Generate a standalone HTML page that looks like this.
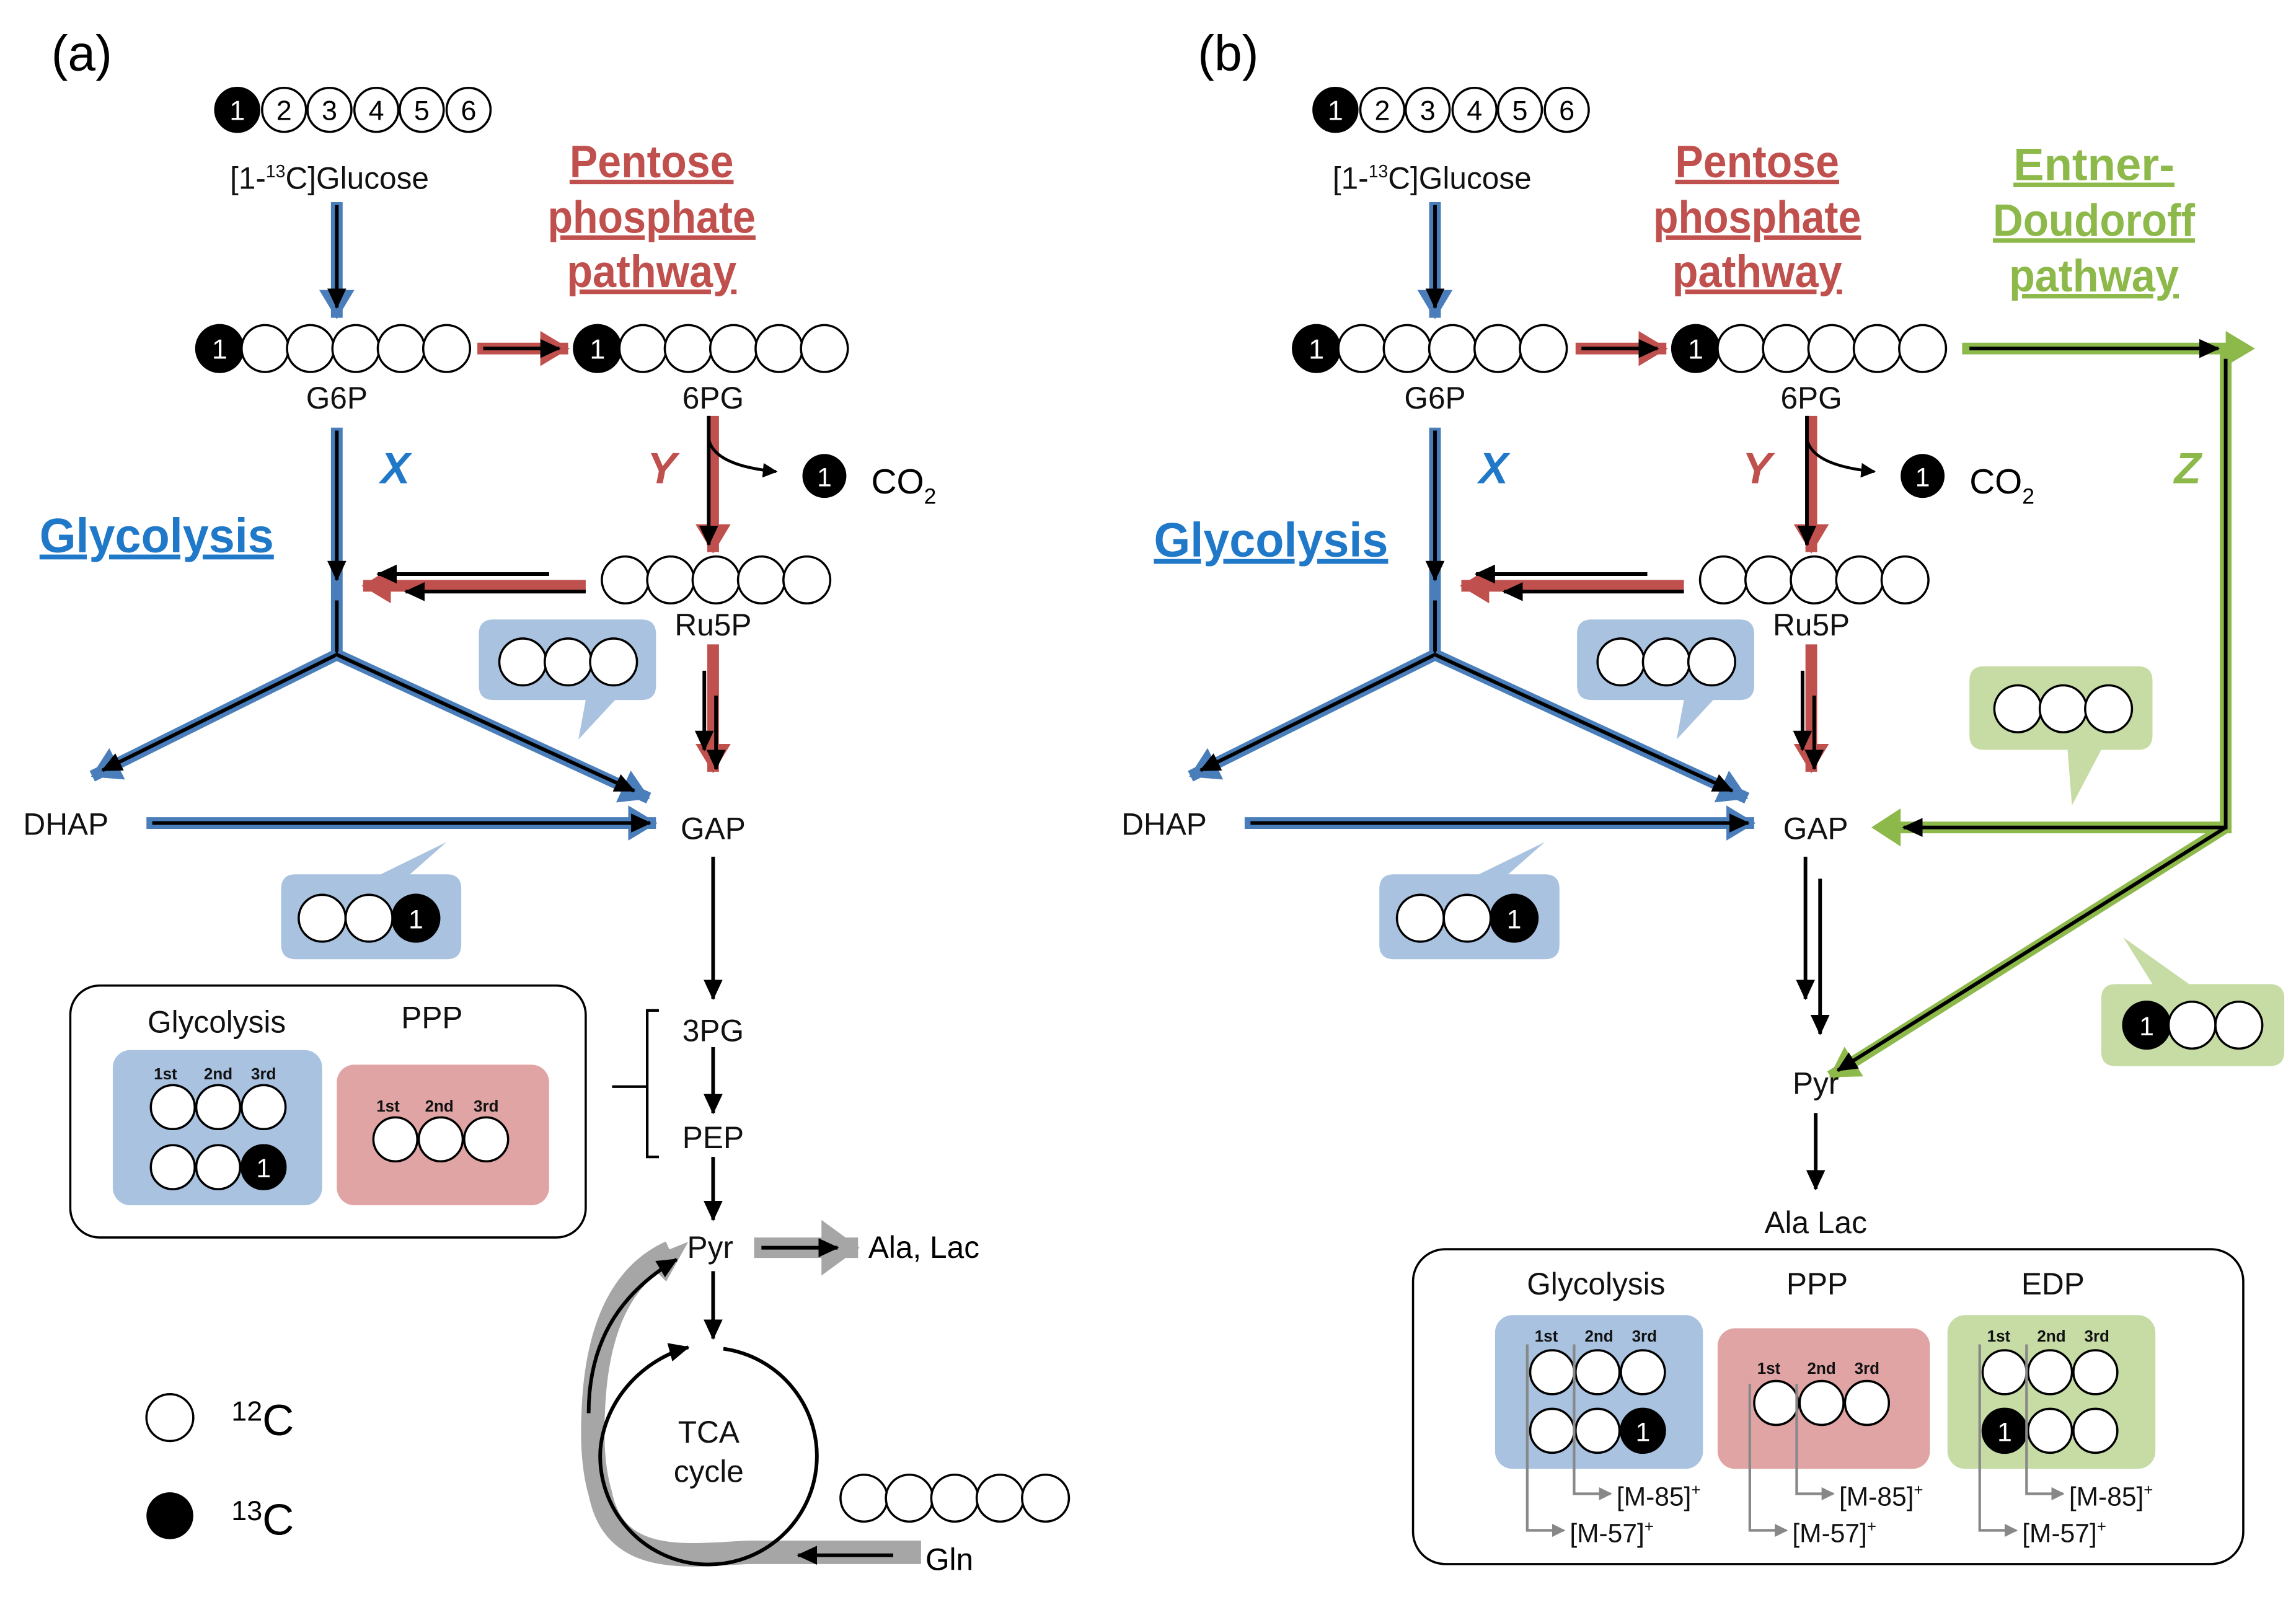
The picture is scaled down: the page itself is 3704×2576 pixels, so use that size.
<!DOCTYPE html>
<html><head><meta charset="utf-8"><style>
html,body{margin:0;padding:0;background:#fff;}
svg{display:block;}
text{font-family:"Liberation Sans",sans-serif;}
.t{font-size:21px;fill:#111;text-anchor:middle;}
.bt{font-weight:bold;text-anchor:middle;}
.sm{font-size:11px;font-weight:bold;text-anchor:middle;fill:#111;}
</style></head><body>
<svg width="3704" height="2576" viewBox="0 0 1568 1090.5" xmlns="http://www.w3.org/2000/svg">
<defs>
<marker id="k" markerWidth="14" markerHeight="13" refX="13" refY="6.5" orient="auto" markerUnits="userSpaceOnUse"><path d="M0,0L14,6.5L0,13z" fill="#000"/></marker>
<marker id="ks" markerWidth="10" markerHeight="10" refX="9" refY="5" orient="auto" markerUnits="userSpaceOnUse"><path d="M0,0L10,5L0,10z" fill="#000"/></marker>
<marker id="gs" markerWidth="9" markerHeight="9" refX="8" refY="4.5" orient="auto" markerUnits="userSpaceOnUse"><path d="M0,0L9,4.5L0,9z" fill="#888"/></marker>
<marker id="bl" markerWidth="20" markerHeight="24" refX="19" refY="12" orient="auto" markerUnits="userSpaceOnUse"><path d="M0,0L20,12L0,24z" fill="#4a7ebb"/></marker>
<marker id="rd" markerWidth="20" markerHeight="24" refX="19" refY="12" orient="auto" markerUnits="userSpaceOnUse"><path d="M0,0L20,12L0,24z" fill="#c0504d"/></marker>
<marker id="gr" markerWidth="20" markerHeight="24" refX="19" refY="12" orient="auto" markerUnits="userSpaceOnUse"><path d="M0,0L20,12L0,24z" fill="#8db84a"/></marker>
<marker id="gy" markerWidth="26" markerHeight="38" refX="25" refY="19" orient="auto" markerUnits="userSpaceOnUse"><path d="M0,0L26,19L0,38z" fill="#a6a6a6"/></marker>
</defs>

<!-- ================= PANEL A ================= -->
<text x="35" y="48" style="font-size:34px">(a)</text>
<g stroke="#000" stroke-width="1.5" fill="#fff">
<circle cx="162" cy="75" r="15" fill="#000"/><circle cx="194" cy="75" r="15"/><circle cx="225" cy="75" r="15"/><circle cx="257" cy="75" r="15"/><circle cx="288" cy="75" r="15"/><circle cx="320" cy="75" r="15"/>
</g>
<g style="font-size:19px" text-anchor="middle"><text x="162" y="82" fill="#fff">1</text><text x="194" y="82">2</text><text x="225" y="82">3</text><text x="257" y="82">4</text><text x="288" y="82">5</text><text x="320" y="82">6</text></g>
<text x="225" y="129" class="t">[1-<tspan font-size="12" dy="-8">13</tspan><tspan dy="8">C]Glucose</tspan></text>

<text x="445" y="121" class="bt" style="font-size:31px" fill="#c0504d" text-decoration="underline" textLength="112" lengthAdjust="spacingAndGlyphs">Pentose</text>
<text x="445" y="159" class="bt" style="font-size:31px" fill="#c0504d" text-decoration="underline" textLength="142" lengthAdjust="spacingAndGlyphs">phosphate</text>
<text x="445" y="196" class="bt" style="font-size:31px" fill="#c0504d" text-decoration="underline" textLength="116" lengthAdjust="spacingAndGlyphs">pathway</text>

<line x1="230" y1="138" x2="230" y2="217" stroke="#4a7ebb" stroke-width="8" marker-end="url(#bl)"/>
<line x1="230" y1="140" x2="230" y2="210" stroke="#000" stroke-width="2.5" marker-end="url(#k)"/>

<g stroke="#000" stroke-width="1.5" fill="#fff">
<circle cx="150" cy="238" r="16" fill="#000"/><circle cx="181" cy="238" r="16"/><circle cx="212" cy="238" r="16"/><circle cx="243" cy="238" r="16"/><circle cx="274" cy="238" r="16"/><circle cx="305" cy="238" r="16"/>
</g>
<text x="150" y="245" style="font-size:19px" text-anchor="middle" fill="#fff">1</text>
<text x="230" y="279" class="t">G6P</text>
<line x1="326" y1="238" x2="388" y2="238" stroke="#c0504d" stroke-width="8" marker-end="url(#rd)"/>
<line x1="330" y1="238" x2="382" y2="238" stroke="#000" stroke-width="2.5" marker-end="url(#k)"/>
<g stroke="#000" stroke-width="1.5" fill="#fff">
<circle cx="408" cy="238" r="16" fill="#000"/><circle cx="439" cy="238" r="16"/><circle cx="470" cy="238" r="16"/><circle cx="501" cy="238" r="16"/><circle cx="532" cy="238" r="16"/><circle cx="563" cy="238" r="16"/>
</g>
<text x="408" y="245" style="font-size:19px" text-anchor="middle" fill="#fff">1</text>
<text x="487" y="279" class="t">6PG</text>

<text x="270" y="330" class="bt" style="font-size:30px;font-style:italic" fill="#1f78c8">X</text>
<text x="452" y="330" class="bt" style="font-size:30px;font-style:italic" fill="#c0504d">Y</text>

<line x1="230" y1="292" x2="230" y2="448" stroke="#4a7ebb" stroke-width="8"/>
<line x1="230" y1="294" x2="230" y2="396" stroke="#000" stroke-width="2.5" marker-end="url(#k)"/>
<line x1="230" y1="410" x2="230" y2="447" stroke="#000" stroke-width="2.5"/>
<text x="107" y="377" class="bt" style="font-size:33px" fill="#1f78c8" text-decoration="underline" textLength="160" lengthAdjust="spacingAndGlyphs">Glycolysis</text>

<line x1="487" y1="284" x2="487" y2="377" stroke="#c0504d" stroke-width="8" marker-end="url(#rd)"/>
<line x1="484" y1="284" x2="484" y2="372" stroke="#000" stroke-width="2.5" marker-end="url(#k)"/>
<path d="M484,300 Q488,318 530,322" fill="none" stroke="#000" stroke-width="2" marker-end="url(#ks)"/>
<circle cx="563" cy="325" r="15" fill="#000"/><text x="563" y="332" style="font-size:18px" text-anchor="middle" fill="#fff">1</text>
<text x="595" y="337" style="font-size:24px">CO<tspan font-size="15" dy="7">2</tspan></text>

<g stroke="#000" stroke-width="1.5" fill="#fff">
<circle cx="427" cy="396" r="16"/><circle cx="458" cy="396" r="16"/><circle cx="489" cy="396" r="16"/><circle cx="520" cy="396" r="16"/><circle cx="551" cy="396" r="16"/>
</g>
<text x="487" y="434" class="t">Ru5P</text>
<line x1="400" y1="400" x2="248" y2="400" stroke="#c0504d" stroke-width="8" marker-end="url(#rd)"/>
<line x1="375" y1="392" x2="258" y2="392" stroke="#000" stroke-width="2.5" marker-end="url(#k)"/>
<line x1="400" y1="404" x2="277" y2="404" stroke="#000" stroke-width="2.5" marker-end="url(#k)"/>

<line x1="230" y1="447" x2="63" y2="530" stroke="#4a7ebb" stroke-width="8" marker-end="url(#bl)"/>
<line x1="230" y1="447" x2="70" y2="526" stroke="#000" stroke-width="2.5" marker-end="url(#k)"/>
<line x1="230" y1="447" x2="443" y2="545" stroke="#4a7ebb" stroke-width="8" marker-end="url(#bl)"/>
<line x1="230" y1="447" x2="433" y2="540" stroke="#000" stroke-width="2.5" marker-end="url(#k)"/>

<path d="M337,423 H438 Q448,423 448,433 V468 Q448,478 438,478 H420 L395,505 L400,478 H337 Q327,478 327,468 V433 Q327,423 337,423z" fill="#a9c2e0"/>
<g stroke="#000" stroke-width="1.5" fill="#fff"><circle cx="357" cy="452" r="16"/><circle cx="388" cy="452" r="16"/><circle cx="419" cy="452" r="16"/></g>

<line x1="487" y1="440" x2="487" y2="527" stroke="#c0504d" stroke-width="8" marker-end="url(#rd)"/>
<line x1="481" y1="458" x2="481" y2="512" stroke="#000" stroke-width="2.5" marker-end="url(#k)"/>
<line x1="489" y1="475" x2="489" y2="525" stroke="#000" stroke-width="2.5" marker-end="url(#k)"/>

<text x="45" y="570" class="t">DHAP</text>
<text x="487" y="573" class="t">GAP</text>
<line x1="100" y1="562" x2="448" y2="562" stroke="#4a7ebb" stroke-width="8" marker-end="url(#bl)"/>
<line x1="104" y1="562" x2="444" y2="562" stroke="#000" stroke-width="2.5" marker-end="url(#k)"/>

<path d="M202,597 H260 L305,575 L280,597 H305 Q315,597 315,607 V645 Q315,655 305,655 H202 Q192,655 192,645 V607 Q192,597 202,597z" fill="#a9c2e0"/>
<g stroke="#000" stroke-width="1.5" fill="#fff"><circle cx="220" cy="627" r="16"/><circle cx="252" cy="627" r="16"/><circle cx="284" cy="627" r="16" fill="#000"/></g>
<text x="284" y="634" style="font-size:18px" text-anchor="middle" fill="#fff">1</text>

<line x1="487" y1="585" x2="487" y2="682" stroke="#000" stroke-width="2.5" marker-end="url(#k)"/>
<text x="487" y="711" class="t">3PG</text>
<line x1="487" y1="715" x2="487" y2="760" stroke="#000" stroke-width="2.5" marker-end="url(#k)"/>
<text x="487" y="784" class="t">PEP</text>
<line x1="487" y1="790" x2="487" y2="833" stroke="#000" stroke-width="2.5" marker-end="url(#k)"/>
<text x="485" y="859" class="t">Pyr</text>
<path d="M450,690 H442 V790 H450 M442,742 H418" fill="none" stroke="#000" stroke-width="1.8"/>

<rect x="48" y="673" width="352" height="172" rx="20" fill="none" stroke="#000" stroke-width="1.5"/>
<text x="148" y="705" class="t">Glycolysis</text>
<text x="295" y="702" class="t">PPP</text>
<rect x="77" y="717" width="143" height="106" rx="12" fill="#a9c2e0"/>
<text x="113" y="737" class="sm">1st</text><text x="149" y="737" class="sm">2nd</text><text x="180" y="737" class="sm">3rd</text>
<g stroke="#000" stroke-width="1.5" fill="#fff"><circle cx="118" cy="756" r="15"/><circle cx="149" cy="756" r="15"/><circle cx="180" cy="756" r="15"/><circle cx="118" cy="797" r="15"/><circle cx="149" cy="797" r="15"/><circle cx="180" cy="797" r="15" fill="#000"/></g>
<text x="180" y="804" style="font-size:18px" text-anchor="middle" fill="#fff">1</text>
<rect x="230" y="727" width="145" height="96" rx="12" fill="#e0a4a4"/>
<text x="265" y="759" class="sm">1st</text><text x="300" y="759" class="sm">2nd</text><text x="332" y="759" class="sm">3rd</text>
<g stroke="#000" stroke-width="1.5" fill="#fff"><circle cx="270" cy="778" r="15"/><circle cx="301" cy="778" r="15"/><circle cx="332" cy="778" r="15"/></g>

<line x1="515" y1="852" x2="586" y2="852" stroke="#a6a6a6" stroke-width="14" marker-end="url(#gy)"/>
<line x1="520" y1="852" x2="572" y2="852" stroke="#000" stroke-width="2.5" marker-end="url(#k)"/>
<text x="593" y="859" style="font-size:21px">Ala, Lac</text>
<line x1="487" y1="868" x2="487" y2="914" stroke="#000" stroke-width="2.5" marker-end="url(#k)"/>

<path d="M629,1060 H510 C470,1062 420,1070 410,1020 C404,1000 404,975 406,950 C410,905 425,870 458,855" fill="none" stroke="#a6a6a6" stroke-width="16"/>
<path d="M440,860 L470,848 L455,875z" fill="#a6a6a6"/>
<path d="M494,921 A74,74 0 1 1 410,990" fill="none" stroke="#000" stroke-width="2.5"/>
<path d="M410,990 C413,955 440,928 470,920" fill="none" stroke="#000" stroke-width="2.5" marker-end="url(#k)"/>
<path d="M402,965 C402,920 420,885 462,860" fill="none" stroke="#000" stroke-width="2.5" marker-end="url(#k)"/>
<text x="484" y="985" class="t">TCA</text>
<text x="484" y="1012" class="t">cycle</text>
<line x1="610" y1="1062" x2="545" y2="1062" stroke="#000" stroke-width="2.5" marker-end="url(#k)"/>
<text x="632" y="1072" style="font-size:21px">Gln</text>
<g stroke="#000" stroke-width="1.5" fill="#fff"><circle cx="590" cy="1023" r="16"/><circle cx="621" cy="1023" r="16"/><circle cx="652" cy="1023" r="16"/><circle cx="683" cy="1023" r="16"/><circle cx="714" cy="1023" r="16"/></g>

<circle cx="116" cy="968" r="16" fill="#fff" stroke="#000" stroke-width="1.5"/>
<text x="158" y="980" style="font-size:30px"><tspan font-size="19" dy="-10">12</tspan><tspan dy="10">C</tspan></text>
<circle cx="116" cy="1035" r="16" fill="#000"/>
<text x="158" y="1048" style="font-size:30px"><tspan font-size="19" dy="-10">13</tspan><tspan dy="10">C</tspan></text>

<!-- ================= PANEL B ================= -->
<text x="818" y="48" style="font-size:34px">(b)</text>
<g stroke="#000" stroke-width="1.5" fill="#fff">
<circle cx="912" cy="75" r="15" fill="#000"/><circle cx="944" cy="75" r="15"/><circle cx="975" cy="75" r="15"/><circle cx="1007" cy="75" r="15"/><circle cx="1038" cy="75" r="15"/><circle cx="1070" cy="75" r="15"/>
</g>
<g style="font-size:19px" text-anchor="middle"><text x="912" y="82" fill="#fff">1</text><text x="944" y="82">2</text><text x="975" y="82">3</text><text x="1007" y="82">4</text><text x="1038" y="82">5</text><text x="1070" y="82">6</text></g>
<text x="978" y="129" class="t">[1-<tspan font-size="12" dy="-8">13</tspan><tspan dy="8">C]Glucose</tspan></text>

<text x="1200" y="121" class="bt" style="font-size:31px" fill="#c0504d" text-decoration="underline" textLength="112" lengthAdjust="spacingAndGlyphs">Pentose</text>
<text x="1200" y="159" class="bt" style="font-size:31px" fill="#c0504d" text-decoration="underline" textLength="142" lengthAdjust="spacingAndGlyphs">phosphate</text>
<text x="1200" y="196" class="bt" style="font-size:31px" fill="#c0504d" text-decoration="underline" textLength="116" lengthAdjust="spacingAndGlyphs">pathway</text>
<text x="1430" y="123" class="bt" style="font-size:31px" fill="#8db84a" text-decoration="underline" textLength="110" lengthAdjust="spacingAndGlyphs">Entner-</text>
<text x="1430" y="161" class="bt" style="font-size:31px" fill="#8db84a" text-decoration="underline" textLength="138" lengthAdjust="spacingAndGlyphs">Doudoroff</text>
<text x="1430" y="199" class="bt" style="font-size:31px" fill="#8db84a" text-decoration="underline" textLength="116" lengthAdjust="spacingAndGlyphs">pathway</text>

<line x1="980" y1="138" x2="980" y2="217" stroke="#4a7ebb" stroke-width="8" marker-end="url(#bl)"/>
<line x1="980" y1="140" x2="980" y2="210" stroke="#000" stroke-width="2.5" marker-end="url(#k)"/>

<g stroke="#000" stroke-width="1.5" fill="#fff">
<circle cx="899" cy="238" r="16" fill="#000"/><circle cx="930" cy="238" r="16"/><circle cx="961" cy="238" r="16"/><circle cx="992" cy="238" r="16"/><circle cx="1023" cy="238" r="16"/><circle cx="1054" cy="238" r="16"/>
</g>
<text x="899" y="245" style="font-size:19px" text-anchor="middle" fill="#fff">1</text>
<text x="980" y="279" class="t">G6P</text>
<line x1="1076" y1="238" x2="1138" y2="238" stroke="#c0504d" stroke-width="8" marker-end="url(#rd)"/>
<line x1="1080" y1="238" x2="1132" y2="238" stroke="#000" stroke-width="2.5" marker-end="url(#k)"/>
<g stroke="#000" stroke-width="1.5" fill="#fff">
<circle cx="1158" cy="238" r="16" fill="#000"/><circle cx="1189" cy="238" r="16"/><circle cx="1220" cy="238" r="16"/><circle cx="1251" cy="238" r="16"/><circle cx="1282" cy="238" r="16"/><circle cx="1313" cy="238" r="16"/>
</g>
<text x="1158" y="245" style="font-size:19px" text-anchor="middle" fill="#fff">1</text>
<text x="1237" y="279" class="t">6PG</text>

<text x="1020" y="330" class="bt" style="font-size:30px;font-style:italic" fill="#1f78c8">X</text>
<text x="1200" y="330" class="bt" style="font-size:30px;font-style:italic" fill="#c0504d">Y</text>
<text x="1494" y="330" class="bt" style="font-size:30px;font-style:italic" fill="#8db84a">Z</text>

<line x1="980" y1="292" x2="980" y2="448" stroke="#4a7ebb" stroke-width="8"/>
<line x1="980" y1="294" x2="980" y2="396" stroke="#000" stroke-width="2.5" marker-end="url(#k)"/>
<line x1="980" y1="410" x2="980" y2="447" stroke="#000" stroke-width="2.5"/>
<text x="868" y="380" class="bt" style="font-size:33px" fill="#1f78c8" text-decoration="underline" textLength="160" lengthAdjust="spacingAndGlyphs">Glycolysis</text>

<line x1="1237" y1="284" x2="1237" y2="377" stroke="#c0504d" stroke-width="8" marker-end="url(#rd)"/>
<line x1="1234" y1="284" x2="1234" y2="372" stroke="#000" stroke-width="2.5" marker-end="url(#k)"/>
<path d="M1234,300 Q1238,318 1280,322" fill="none" stroke="#000" stroke-width="2" marker-end="url(#ks)"/>
<circle cx="1313" cy="325" r="15" fill="#000"/><text x="1313" y="332" style="font-size:18px" text-anchor="middle" fill="#fff">1</text>
<text x="1345" y="337" style="font-size:24px">CO<tspan font-size="15" dy="7">2</tspan></text>

<g stroke="#000" stroke-width="1.5" fill="#fff">
<circle cx="1177" cy="396" r="16"/><circle cx="1208" cy="396" r="16"/><circle cx="1239" cy="396" r="16"/><circle cx="1270" cy="396" r="16"/><circle cx="1301" cy="396" r="16"/>
</g>
<text x="1237" y="434" class="t">Ru5P</text>
<line x1="1150" y1="400" x2="998" y2="400" stroke="#c0504d" stroke-width="8" marker-end="url(#rd)"/>
<line x1="1125" y1="392" x2="1008" y2="392" stroke="#000" stroke-width="2.5" marker-end="url(#k)"/>
<line x1="1150" y1="404" x2="1027" y2="404" stroke="#000" stroke-width="2.5" marker-end="url(#k)"/>

<line x1="980" y1="447" x2="813" y2="530" stroke="#4a7ebb" stroke-width="8" marker-end="url(#bl)"/>
<line x1="980" y1="447" x2="820" y2="526" stroke="#000" stroke-width="2.5" marker-end="url(#k)"/>
<line x1="980" y1="447" x2="1193" y2="545" stroke="#4a7ebb" stroke-width="8" marker-end="url(#bl)"/>
<line x1="980" y1="447" x2="1183" y2="540" stroke="#000" stroke-width="2.5" marker-end="url(#k)"/>

<path d="M1087,423 H1188 Q1198,423 1198,433 V468 Q1198,478 1188,478 H1170 L1145,505 L1150,478 H1087 Q1077,478 1077,468 V433 Q1077,423 1087,423z" fill="#a9c2e0"/>
<g stroke="#000" stroke-width="1.5" fill="#fff"><circle cx="1107" cy="452" r="16"/><circle cx="1138" cy="452" r="16"/><circle cx="1169" cy="452" r="16"/></g>

<line x1="1237" y1="440" x2="1237" y2="527" stroke="#c0504d" stroke-width="8" marker-end="url(#rd)"/>
<line x1="1231" y1="458" x2="1231" y2="512" stroke="#000" stroke-width="2.5" marker-end="url(#k)"/>
<line x1="1239" y1="475" x2="1239" y2="525" stroke="#000" stroke-width="2.5" marker-end="url(#k)"/>

<text x="795" y="570" class="t">DHAP</text>
<text x="1240" y="573" class="t">GAP</text>
<line x1="850" y1="562" x2="1198" y2="562" stroke="#4a7ebb" stroke-width="8" marker-end="url(#bl)"/>
<line x1="854" y1="562" x2="1194" y2="562" stroke="#000" stroke-width="2.5" marker-end="url(#k)"/>

<path d="M952,597 H1010 L1055,575 L1030,597 H1055 Q1065,597 1065,607 V645 Q1065,655 1055,655 H952 Q942,655 942,645 V607 Q942,597 952,597z" fill="#a9c2e0"/>
<g stroke="#000" stroke-width="1.5" fill="#fff"><circle cx="970" cy="627" r="16"/><circle cx="1002" cy="627" r="16"/><circle cx="1034" cy="627" r="16" fill="#000"/></g>
<text x="1034" y="634" style="font-size:18px" text-anchor="middle" fill="#fff">1</text>

<path d="M1340,238 H1520 V565 H1295" fill="none" stroke="#8db84a" stroke-width="8"/>
<path d="M1520,565 L1250,735" fill="none" stroke="#8db84a" stroke-width="8" marker-end="url(#gr)"/>
<path d="M1298,552 L1278,565 L1298,578z" fill="#8db84a"/>
<path d="M1520,226 L1540,238 L1520,250z" fill="#8db84a"/>
<line x1="1345" y1="238" x2="1515" y2="238" stroke="#000" stroke-width="2.5" marker-end="url(#k)"/>
<path d="M1520,245 V565 H1300" fill="none" stroke="#000" stroke-width="2.5" marker-end="url(#k)"/>
<line x1="1520" y1="565" x2="1255" y2="731" stroke="#000" stroke-width="2.5" marker-end="url(#k)"/>

<path d="M1355,455 H1460 Q1470,455 1470,465 V502 Q1470,512 1460,512 H1435 L1415,550 L1412,512 H1355 Q1345,512 1345,502 V465 Q1345,455 1355,455z" fill="#c6dca4"/>
<g stroke="#000" stroke-width="1.5" fill="#fff"><circle cx="1378" cy="484" r="16"/><circle cx="1409" cy="484" r="16"/><circle cx="1440" cy="484" r="16"/></g>
<path d="M1445,672 H1470 L1450,640 L1495,672 H1550 Q1560,672 1560,682 V718 Q1560,728 1550,728 H1445 Q1435,728 1435,718 V682 Q1435,672 1445,672z" fill="#c6dca4"/>
<g stroke="#000" stroke-width="1.5" fill="#fff"><circle cx="1466" cy="700" r="16" fill="#000"/><circle cx="1497" cy="700" r="16"/><circle cx="1529" cy="700" r="16"/></g>
<text x="1466" y="707" style="font-size:18px" text-anchor="middle" fill="#fff">1</text>

<line x1="1233" y1="585" x2="1233" y2="682" stroke="#000" stroke-width="2.5" marker-end="url(#k)"/>
<line x1="1243" y1="600" x2="1243" y2="706" stroke="#000" stroke-width="2.5" marker-end="url(#k)"/>
<text x="1240" y="747" class="t">Pyr</text>
<line x1="1240" y1="760" x2="1240" y2="812" stroke="#000" stroke-width="2.5" marker-end="url(#k)"/>
<text x="1240" y="842" class="t">Ala Lac</text>

<rect x="965" y="853" width="567" height="215" rx="22" fill="none" stroke="#000" stroke-width="1.5"/>
<text x="1090" y="884" class="t">Glycolysis</text>
<text x="1241" y="884" class="t">PPP</text>
<text x="1402" y="884" class="t">EDP</text>
<rect x="1021" y="898" width="142" height="105" rx="12" fill="#a9c2e0"/>
<rect x="1173" y="907" width="145" height="96" rx="12" fill="#e0a4a4"/>
<rect x="1330" y="898" width="142" height="105" rx="12" fill="#c6dca4"/>
<text x="1056" y="916" class="sm">1st</text><text x="1092" y="916" class="sm">2nd</text><text x="1123" y="916" class="sm">3rd</text>
<text x="1208" y="938" class="sm">1st</text><text x="1244" y="938" class="sm">2nd</text><text x="1275" y="938" class="sm">3rd</text>
<text x="1365" y="916" class="sm">1st</text><text x="1401" y="916" class="sm">2nd</text><text x="1432" y="916" class="sm">3rd</text>
<g stroke="#000" stroke-width="1.5" fill="#fff">
<circle cx="1060" cy="937" r="15"/><circle cx="1091" cy="937" r="15"/><circle cx="1122" cy="937" r="15"/>
<circle cx="1060" cy="977" r="15"/><circle cx="1091" cy="977" r="15"/><circle cx="1122" cy="977" r="15" fill="#000"/>
<circle cx="1213" cy="958" r="15"/><circle cx="1244" cy="958" r="15"/><circle cx="1275" cy="958" r="15"/>
<circle cx="1369" cy="937" r="15"/><circle cx="1400" cy="937" r="15"/><circle cx="1431" cy="937" r="15"/>
<circle cx="1369" cy="977" r="15" fill="#000"/><circle cx="1400" cy="977" r="15"/><circle cx="1431" cy="977" r="15"/>
</g>
<text x="1122" y="984" style="font-size:18px" text-anchor="middle" fill="#fff">1</text>
<text x="1369" y="984" style="font-size:18px" text-anchor="middle" fill="#fff">1</text>
<g fill="none" stroke="#888" stroke-width="1.8">
<path d="M1043,918 V1045 H1068" marker-end="url(#gs)"/><path d="M1075,918 V1020 H1100" marker-end="url(#gs)"/>
<path d="M1195,945 V1045 H1220" marker-end="url(#gs)"/><path d="M1227,945 V1020 H1252" marker-end="url(#gs)"/>
<path d="M1352,918 V1045 H1377" marker-end="url(#gs)"/><path d="M1384,918 V1020 H1409" marker-end="url(#gs)"/>
</g>
<g style="font-size:18px" fill="#111">
<text x="1104" y="1028">[M-85]<tspan font-size="11" dy="-7">+</tspan></text>
<text x="1072" y="1053">[M-57]<tspan font-size="11" dy="-7">+</tspan></text>
<text x="1256" y="1028">[M-85]<tspan font-size="11" dy="-7">+</tspan></text>
<text x="1224" y="1053">[M-57]<tspan font-size="11" dy="-7">+</tspan></text>
<text x="1413" y="1028">[M-85]<tspan font-size="11" dy="-7">+</tspan></text>
<text x="1381" y="1053">[M-57]<tspan font-size="11" dy="-7">+</tspan></text>
</g>
</svg>
</body></html>
